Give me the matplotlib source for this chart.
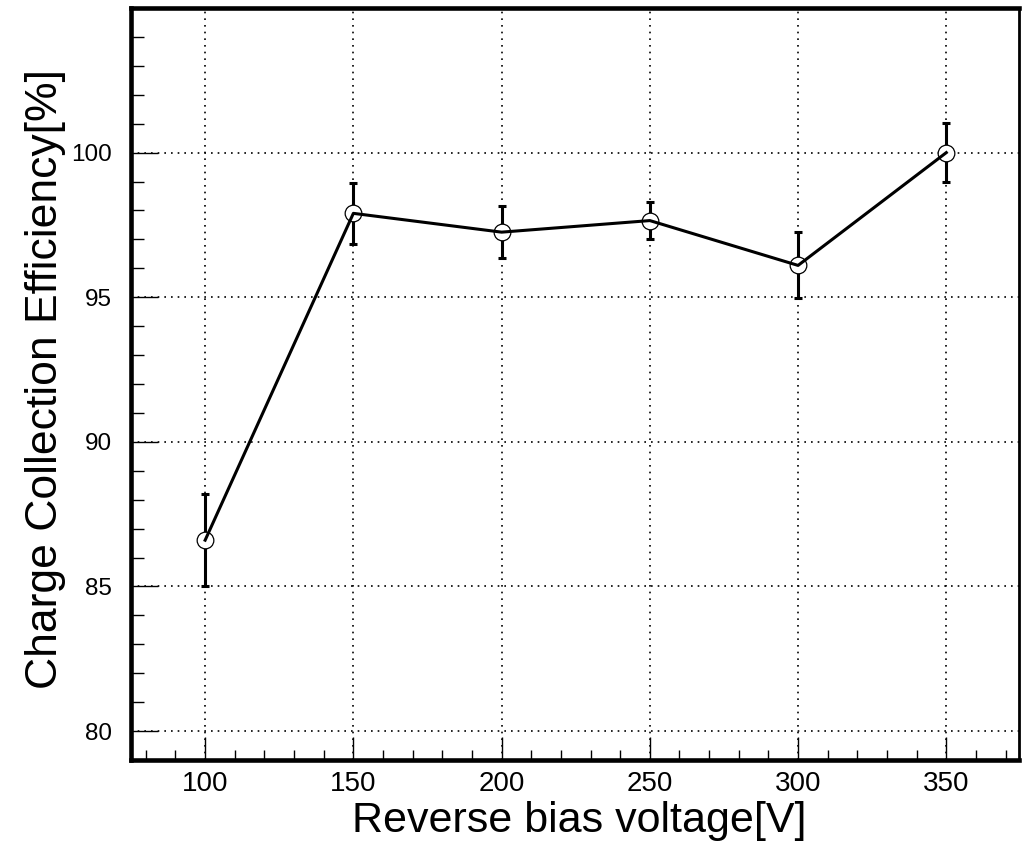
import numpy as np
import matplotlib.pyplot as plt
from matplotlib.ticker import MultipleLocator

# Dữ liệu
voltage = [100, 150, 200, 250, 300, 350]
cce = [86.6, 97.9, 97.25, 97.65, 96.1, 100.0]
cce_err = [1.6, 1.05, 0.9, 0.63, 1.14, 1.02]

plt.rcParams['font.family'] = ['Liberation Sans', 'DejaVu Sans']

fig = plt.figure(figsize=(10.22, 8.42), dpi=100)
ax = fig.add_axes([0.1282, 0.0974, 0.8688, 0.8931])

# Thanh sai số nằm dưới, vòng tròn trắng che phần giữa, đường nối vẽ trên cùng
ax.errorbar(voltage, cce, yerr=cce_err, fmt='none', ecolor='black',
            elinewidth=2.2, capsize=3, capthick=2.2, zorder=3)
ax.plot(voltage, cce, linestyle='none', marker='o', markersize=12,
        markerfacecolor='white', markeredgecolor='black',
        markeredgewidth=0.9, zorder=4)
ax.plot(voltage, cce, color='black', linewidth=2.2, zorder=5)

ax.set_xlim(75, 374.5)
ax.set_ylim(79, 105)

ax.xaxis.set_major_locator(MultipleLocator(50))
ax.xaxis.set_minor_locator(MultipleLocator(10))
ax.yaxis.set_major_locator(MultipleLocator(5))
ax.yaxis.set_minor_locator(MultipleLocator(1))
ax.set_yticks([80, 85, 90, 95, 100])

ax.tick_params(axis='both', which='both', direction='in', width=1.0,
               top=False, right=False)
ax.tick_params(axis='x', which='major', length=16.5, pad=8, labelsize=20)
ax.tick_params(axis='x', which='minor', length=7)
ax.tick_params(axis='y', which='major', length=19.5, pad=14, labelsize=17.5)
ax.tick_params(axis='y', which='minor', length=9.5)

ax.grid(True, which='major', color='black', linestyle=(0, (1, 3)),
        linewidth=1.2)

for side in ['left', 'top', 'bottom']:
    ax.spines[side].set_linewidth(3.3)
ax.spines['right'].set_linewidth(2)

ax.set_xlabel('Reverse bias voltage[V]', fontsize=31)
ax.set_ylabel('Charge Collection Efficiency[%]', fontsize=32)
ax.xaxis.set_label_coords(0.5045, -0.0545)
ax.yaxis.set_label_coords(-0.073, 0.5066)

plt.savefig('out.png', dpi=100)
plt.close()
